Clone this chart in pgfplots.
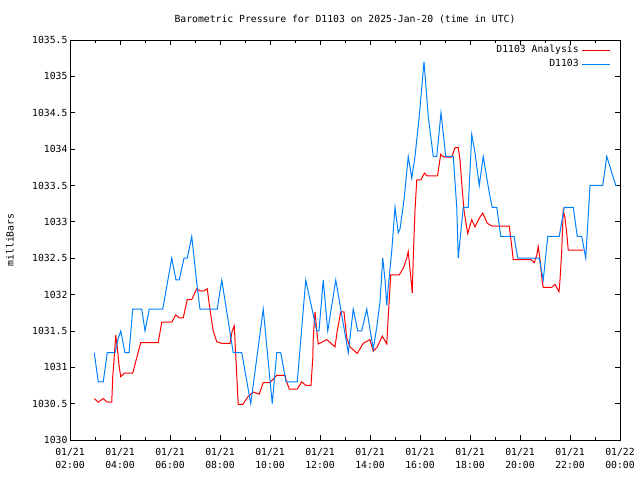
\documentclass[border=0pt]{standalone}
\usepackage{pgfplots}
\pgfplotsset{compat=1.18}
\usepackage{fontspec}
\setmainfont{DejaVu Sans Mono}
\definecolor{gpred}{RGB}{255,0,0}
\definecolor{gpblue}{RGB}{0,128,255}
\begin{document}
\begin{tikzpicture}
\path (0,0) rectangle (640bp,480bp);
\begin{axis}[
  at={(70bp,40bp)}, anchor=south west,
  width=550bp, height=400bp, scale only axis,
  xmin=2, xmax=24, ymin=1030, ymax=1035.5,
  xtick={2,4,...,24},
  xticklabels={01/21\\[2bp]02:00,01/21\\[2bp]04:00,01/21\\[2bp]06:00,01/21\\[2bp]08:00,01/21\\[2bp]10:00,01/21\\[2bp]12:00,01/21\\[2bp]14:00,01/21\\[2bp]16:00,01/21\\[2bp]18:00,01/21\\[2bp]20:00,01/21\\[2bp]22:00,01/22\\[2bp]00:00},
  minor xtick={3,5,...,23},
  ytick={1030,1030.5,...,1035.5},
  yticklabels={1030,1030.5,1031,1031.5,1032,1032.5,1033,1033.5,1034,1034.5,1035,1035.5},
  major tick length=5bp, minor tick length=3bp,
  tick style={black, line width=0.8bp},
  axis line style={line width=0.8bp},
  font=\fontsize{9.8}{11.5}\selectfont,
  xticklabel style={align=center, yshift=-4.5bp},
  yticklabel style={xshift=1bp},
  /pgf/number format/assume math mode=true,
  ylabel={milliBars},
  ylabel style={at={(axis description cs:-0.109,0.5)}, anchor=center, rotate=0},
  title={Barometric Pressure for D1103 on 2025-Jan-20 (time in UTC)},
  every axis title/.style={at={(axis description cs:0.5,1)}, anchor=center, yshift=21bp},
  legend cell align=right,
  legend plot pos=right,
  legend style={at={(axis description cs:0.988,0.997)}, anchor=north east, draw=none, fill=none,
    font=\fontsize{9.8}{11.5}\selectfont, row sep=0pt,
    nodes={inner sep=2.5bp, text height=7bp, text depth=2bp}},
  legend image code/.code={\draw[#1, line width=1bp] (3bp,0bp) -- (31bp,0bp);},
]
\addplot[color=gpred, line width=1bp] coordinates {
(2.97,1030.57)(3.13,1030.52)(3.33,1030.57)(3.49,1030.52)(3.67,1030.52)(3.71,1030.87)(3.76,1031.1)(3.83,1031.44)(3.89,1031.28)(3.96,1031.03)(4.03,1030.87)(4.17,1030.92)(4.51,1030.92)(4.83,1031.34)(5.53,1031.34)(5.67,1031.62)(6.07,1031.62)(6.23,1031.72)(6.37,1031.68)(6.53,1031.68)(6.69,1031.93)(6.87,1031.93)(7.07,1032.08)(7.20,1032.05)(7.36,1032.05)(7.49,1032.08)(7.60,1031.79)(7.73,1031.5)(7.87,1031.35)(8.07,1031.33)(8.40,1031.33)(8.49,1031.5)(8.57,1031.57)(8.67,1030.89)(8.73,1030.49)(8.91,1030.49)(9.13,1030.6)(9.33,1030.66)(9.57,1030.63)(9.73,1030.79)(10.00,1030.79)(10.11,1030.83)(10.27,1030.89)(10.60,1030.89)(10.65,1030.82)(10.77,1030.7)(11.09,1030.7)(11.27,1030.80)(11.44,1030.75)(11.64,1030.75)(11.71,1031.12)(11.73,1031.4)(11.80,1031.76)(11.87,1031.5)(11.93,1031.32)(12.27,1031.38)(12.60,1031.28)(12.69,1031.5)(12.83,1031.76)(12.96,1031.76)(13.07,1031.4)(13.20,1031.28)(13.49,1031.19)(13.73,1031.33)(14.00,1031.38)(14.13,1031.22)(14.29,1031.28)(14.49,1031.43)(14.67,1031.32)(14.73,1031.7)(14.83,1032.27)(15.17,1032.27)(15.33,1032.36)(15.47,1032.5)(15.53,1032.59)(15.60,1032.35)(15.67,1032.11)(15.69,1032.02)(15.73,1032.5)(15.80,1033.16)(15.87,1033.575)(16.03,1033.575)(16.18,1033.67)(16.28,1033.63)(16.70,1033.63)(16.83,1033.93)(16.91,1033.9)(17.00,1033.89)(17.27,1033.89)(17.40,1034.02)(17.53,1034.02)(17.60,1033.85)(17.67,1033.53)(17.76,1033.16)(17.84,1032.98)(17.91,1032.84)(18.07,1033.03)(18.20,1032.93)(18.37,1033.05)(18.51,1033.12)(18.69,1032.98)(18.89,1032.94)(19.57,1032.94)(19.67,1032.66)(19.73,1032.48)(20.44,1032.48)(20.57,1032.44)(20.67,1032.54)(20.73,1032.66)(20.80,1032.48)(20.89,1032.18)(20.93,1032.10)(21.27,1032.10)(21.40,1032.14)(21.56,1032.04)(21.60,1032.2)(21.67,1032.61)(21.73,1033.16)(21.80,1033.05)(21.87,1032.84)(21.93,1032.61)(22.53,1032.61)
};
\addlegendentry{D1103 Analysis}
\addplot[color=gpblue, line width=1bp] coordinates {
(2.97,1031.2)(3.13,1030.8)(3.33,1030.8)(3.49,1031.2)(3.80,1031.2)(3.93,1031.4)(4.03,1031.5)(4.20,1031.2)(4.36,1031.2)(4.51,1031.8)(4.87,1031.8)(5.00,1031.5)(5.17,1031.8)(5.71,1031.8)(6.07,1032.5)(6.24,1032.2)(6.37,1032.2)(6.56,1032.5)(6.69,1032.5)(6.87,1032.8)(7.09,1032.1)(7.20,1031.8)(7.89,1031.8)(8.07,1032.2)(8.53,1031.2)(8.87,1031.2)(9.23,1030.5)(9.73,1031.8)(10.09,1030.5)(10.27,1031.2)(10.43,1031.2)(10.64,1030.8)(11.09,1030.8)(11.43,1032.2)(11.87,1031.5)(11.96,1031.5)(12.13,1032.2)(12.31,1031.5)(12.63,1032.2)(13.13,1031.2)(13.33,1031.8)(13.51,1031.5)(13.67,1031.5)(13.87,1031.8)(14.13,1031.25)(14.27,1031.55)(14.40,1031.9)(14.51,1032.5)(14.60,1032.2)(14.67,1031.85)(14.73,1032.1)(14.87,1032.6)(15.00,1033.2)(15.13,1032.85)(15.20,1032.9)(15.36,1033.3)(15.53,1033.9)(15.67,1033.6)(15.80,1033.9)(15.97,1034.45)(16.16,1035.2)(16.33,1034.45)(16.53,1033.9)(16.67,1033.9)(16.84,1034.5)(17.03,1033.9)(17.33,1033.9)(17.47,1033.2)(17.53,1032.5)(17.63,1032.85)(17.73,1033.2)(17.93,1033.2)(18.07,1034.2)(18.20,1033.95)(18.37,1033.5)(18.53,1033.9)(18.77,1033.4)(18.89,1033.2)(19.07,1033.2)(19.23,1032.8)(19.76,1032.8)(19.91,1032.5)(20.77,1032.5)(20.93,1032.2)(21.11,1032.8)(21.57,1032.8)(21.77,1033.2)(22.13,1033.2)(22.29,1032.8)(22.47,1032.8)(22.63,1032.5)(22.80,1033.5)(23.31,1033.5)(23.47,1033.9)(23.83,1033.5)(23.88,1033.5)
};
\addlegendentry{D1103}
\end{axis}
\end{tikzpicture}
\end{document}
